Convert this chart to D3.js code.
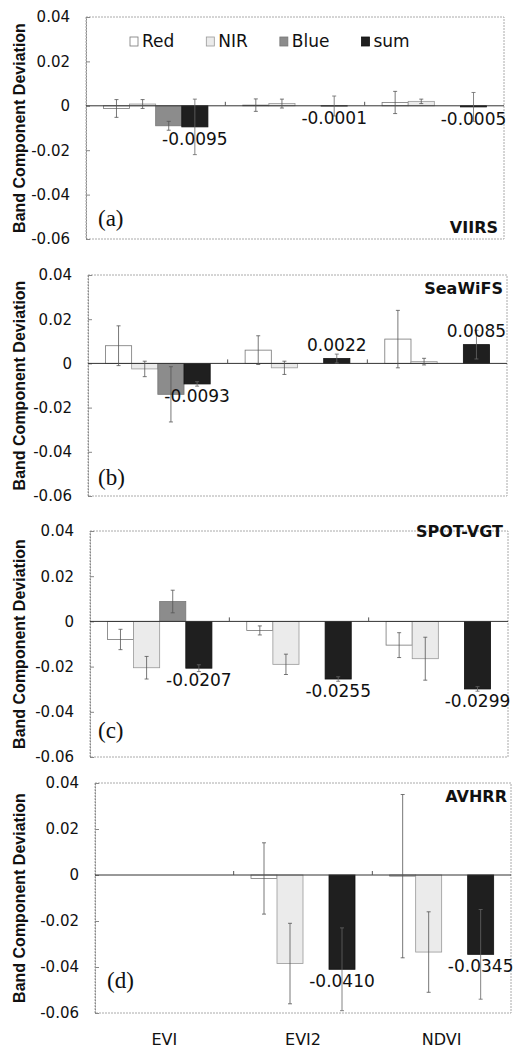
<!DOCTYPE html>
<html>
<head>
<meta charset="utf-8">
<script src="https://cdnjs.cloudflare.com/ajax/libs/d3/7.8.5/d3.min.js"></script>
<style>
    body { margin: 0; background: #fff; }
    svg text { font-family: "DejaVu Sans", sans-serif; fill: #111; }
</style>
</head>
<body>
<div id="chart"></div>
<script>
var categories = ["EVI", "EVI2", "NDVI"];
var bands = ["Red", "NIR", "Blue", "sum"];
var sensors = ["VIIRS", "SeaWiFS", "SPOT-VGT", "AVHRR"];
var panelTags = ["(a)", "(b)", "(c)", "(d)"];
var yTicks = [-0.06, -0.04, -0.02, 0, 0.02, 0.04];
var yTickLabels = ["-0.06", "-0.04", "-0.02", "0", "0.02", "0.04"];

// rows: Red, NIR, Blue, sum   columns: EVI, EVI2, NDVI
var viirsMean = [
    [-0.0012, 0.0003, 0.0015],
    [0.0008, 0.0010, 0.0020],
    [-0.0090, null, null],
    [-0.0095, -0.0001, -0.0005]
];
var viirsErr = [
    [0.0040, 0.0028, 0.0050],
    [0.0020, 0.0020, 0.0010],
    [0.0020, null, null],
    [0.0125, 0.0045, 0.0065]
];
var seawifsMean = [
    [0.0080, 0.0060, 0.0110],
    [-0.0025, -0.0020, 0.0008],
    [-0.0140, null, null],
    [-0.0093, 0.0022, 0.0085]
];
var seawifsErr = [
    [0.0090, 0.0065, 0.0130],
    [0.0035, 0.0030, 0.0015],
    [0.0125, null, null],
    [0.0010, 0.0020, 0.0065]
];
var spotMean = [
    [-0.0080, -0.0040, -0.0105],
    [-0.0205, -0.0190, -0.0165],
    [0.0088, null, null],
    [-0.0207, -0.0255, -0.0299]
];
var spotErr = [
    [0.0045, 0.0020, 0.0055],
    [0.0050, 0.0045, 0.0095],
    [0.0050, null, null],
    [0.0015, 0.0010, 0.0010]
];
var avhrrMean = [
    [null, -0.0015, -0.0005],
    [null, -0.0385, -0.0335],
    [null, null, null],
    [null, -0.0410, -0.0345]
];
var avhrrErr = [
    [null, 0.0155, 0.0355],
    [null, 0.0175, 0.0175],
    [null, null, null],
    [null, 0.0180, 0.0195]
];

var means = [viirsMean, seawifsMean, spotMean, avhrrMean];
var errs = [viirsErr, seawifsErr, spotErr, avhrrErr];

// page placement of each scanned panel
var panels = [
    {left: 86, right: 504, top: 17, bottom: 239, tagX: 98, tagY: 226, nameX: 498, nameY: 233},
    {left: 88, right: 507, top: 275, bottom: 496, tagX: 98, tagY: 485, nameX: 503, nameY: 294},
    {left: 90, right: 508, top: 531, bottom: 757, tagX: 98, tagY: 738, nameX: 503, nameY: 537},
    {left: 95, right: 511, top: 783, bottom: 1013, tagX: 107, tagY: 988, nameX: 507, nameY: 802}
];

var fills = {Red: "#ffffff", NIR: "#ebebeb", Blue: "#8c8c8c", sum: "#1f1f1f"};
var strokes = {Red: "#777", NIR: "#999", Blue: "#777", sum: "#111"};

var svg = d3.select("#chart").append("svg")
    .attr("width", 515)
    .attr("height", 1049);

var fmt = function (v) {
    return d3.format(".4f")(v).replace("\u2212", "-");
};

panels.forEach(function (p, pi) {
    var g = svg.append("g").attr("class", "panel");

    var y = d3.scaleLinear()
        .domain([-0.06, 0.04])
        .range([p.bottom, p.top]);

    var x0 = d3.scaleBand()
        .domain(categories)
        .range([p.left, p.right])
        .paddingInner(0.25)
        .paddingOuter(0.125);

    var x1 = d3.scaleBand()
        .domain(bands)
        .range([0, x0.bandwidth()]);

    // plot box
    g.append("rect")
        .attr("x", p.left)
        .attr("y", p.top)
        .attr("width", p.right - p.left)
        .attr("height", p.bottom - p.top)
        .attr("fill", "none")
        .attr("stroke", "#aaa")
        .attr("stroke-dasharray", "2,1")

    //y-axis
    var yAxisCall = d3.axisLeft(y)
        .tickValues(yTicks)
        .tickFormat(function (d, i) { return yTickLabels[i]; })
        .tickSizeInner(-4)
        .tickSizeOuter(0)
        .tickPadding(16);
    var ya = g.append("g")
        .attr("transform", "translate(" + p.left + ",0)")
        .call(yAxisCall);
    ya.select(".domain").attr("stroke", "#888").attr("stroke-dasharray", "2,1");
    ya.selectAll(".tick line").attr("stroke", "#888");
    ya.selectAll("text")
        .style("font-size", "15px")
        .attr("fill", "#111");

    g.append("text")
        .attr("transform", "translate(25," + ((p.top + p.bottom) / 2) + ") rotate(-90)")
        .attr("text-anchor", "middle")
        .style("font-family", "'Liberation Sans', Arial, sans-serif")
        .style("font-weight", "bold")
        .style("font-size", "16px")
        .text("Band Component Deviation");

    // bars
    bands.forEach(function (b, bi) {
        categories.forEach(function (c, ci) {
            var v = means[pi][bi][ci];
            if (v === null) return;
            g.append("rect")
                .attr("class", "bar")
                .attr("x", x0(c) + x1(b))
                .attr("y", Math.min(y(v), y(0)))
                .attr("width", x1.bandwidth())
                .attr("height", Math.abs(y(v) - y(0)))
                .attr("fill", fills[b])
                .attr("stroke", strokes[b])
                .attr("stroke-width", 0.8);
        });
    });

    // zero line
    g.append("line")
        .attr("x1", p.left)
        .attr("x2", p.right)
        .attr("y1", y(0))
        .attr("y2", y(0))
        .attr("stroke", "#333")
        .attr("stroke-width", 1);

    // category boundary ticks on the zero line
    [1, 2].forEach(function (k) {
        var tx = p.left + k * x0.step();
        g.append("line")
            .attr("x1", tx).attr("x2", tx)
            .attr("y1", y(0)).attr("y2", y(0) - 4)
            .attr("stroke", "#555");
    });

    // error bars
    bands.forEach(function (b, bi) {
        categories.forEach(function (c, ci) {
            var v = means[pi][bi][ci];
            var e = errs[pi][bi][ci];
            if (v === null || e === null) return;
            var cx = x0(c) + x1(b) + x1.bandwidth() / 2;
            var col = b === "sum" ? "#666" : "#555";
            g.append("line")
                .attr("x1", cx).attr("x2", cx)
                .attr("y1", y(v - e)).attr("y2", y(v + e))
                .attr("stroke", col)
                .attr("stroke-width", 0.8);
            [v - e, v + e].forEach(function (w) {
                g.append("line")
                    .attr("x1", cx - 2).attr("x2", cx + 2)
                    .attr("y1", y(w)).attr("y2", y(w))
                    .attr("stroke", col)
                    .attr("stroke-width", 0.8);
            });
        });
    });

    // sum value labels
    categories.forEach(function (c, ci) {
        var v = means[pi][3][ci];
        if (v === null) return;
        g.append("text")
            .attr("x", x0(c) + x1("sum") + x1.bandwidth() / 2)
            .attr("y", v < 0 ? y(v) + 18 : y(v) - 8)
            .attr("text-anchor", "middle")
            .style("font-size", "17px")
            .text(fmt(v));
    });

    g.append("text")
        .attr("x", p.tagX)
        .attr("y", p.tagY)
        .style("font-family", "'Liberation Serif', 'Times New Roman', serif")
        .style("font-size", "23px")
        .text(panelTags[pi]);

    g.append("text")
        .attr("x", p.nameX)
        .attr("y", p.nameY)
        .attr("text-anchor", "end")
        .style("font-weight", "bold")
        .style("font-size", "16px")
        .text(sensors[pi]);

    // category labels under the last panel
    if (pi === panels.length - 1) {
        g.selectAll(".xlab")
            .data(categories)
            .enter().append("text")
            .attr("class", "xlab")
            .attr("x", function (d) { return x0(d) + x0.bandwidth() / 2; })
            .attr("y", 1045)
            .attr("text-anchor", "middle")
            .style("font-size", "16px")
            .text(function (d) { return d; });
    }
});

// legend (panel a)
var legend = svg.append("g").attr("class", "legend");
var cursor = 130;
bands.forEach(function (b) {
    legend.append("rect")
        .attr("x", cursor)
        .attr("y", 37)
        .attr("width", 8)
        .attr("height", 9)
        .attr("fill", fills[b])
        .attr("stroke", strokes[b])
        .attr("stroke-width", 0.8);
    var t = legend.append("text")
        .attr("x", cursor + 12)
        .attr("y", 47)
        .style("font-size", "17px")
        .text(b);
    cursor += 12 + t.node().getComputedTextLength() + 32;
});
</script>
</body>
</html>
